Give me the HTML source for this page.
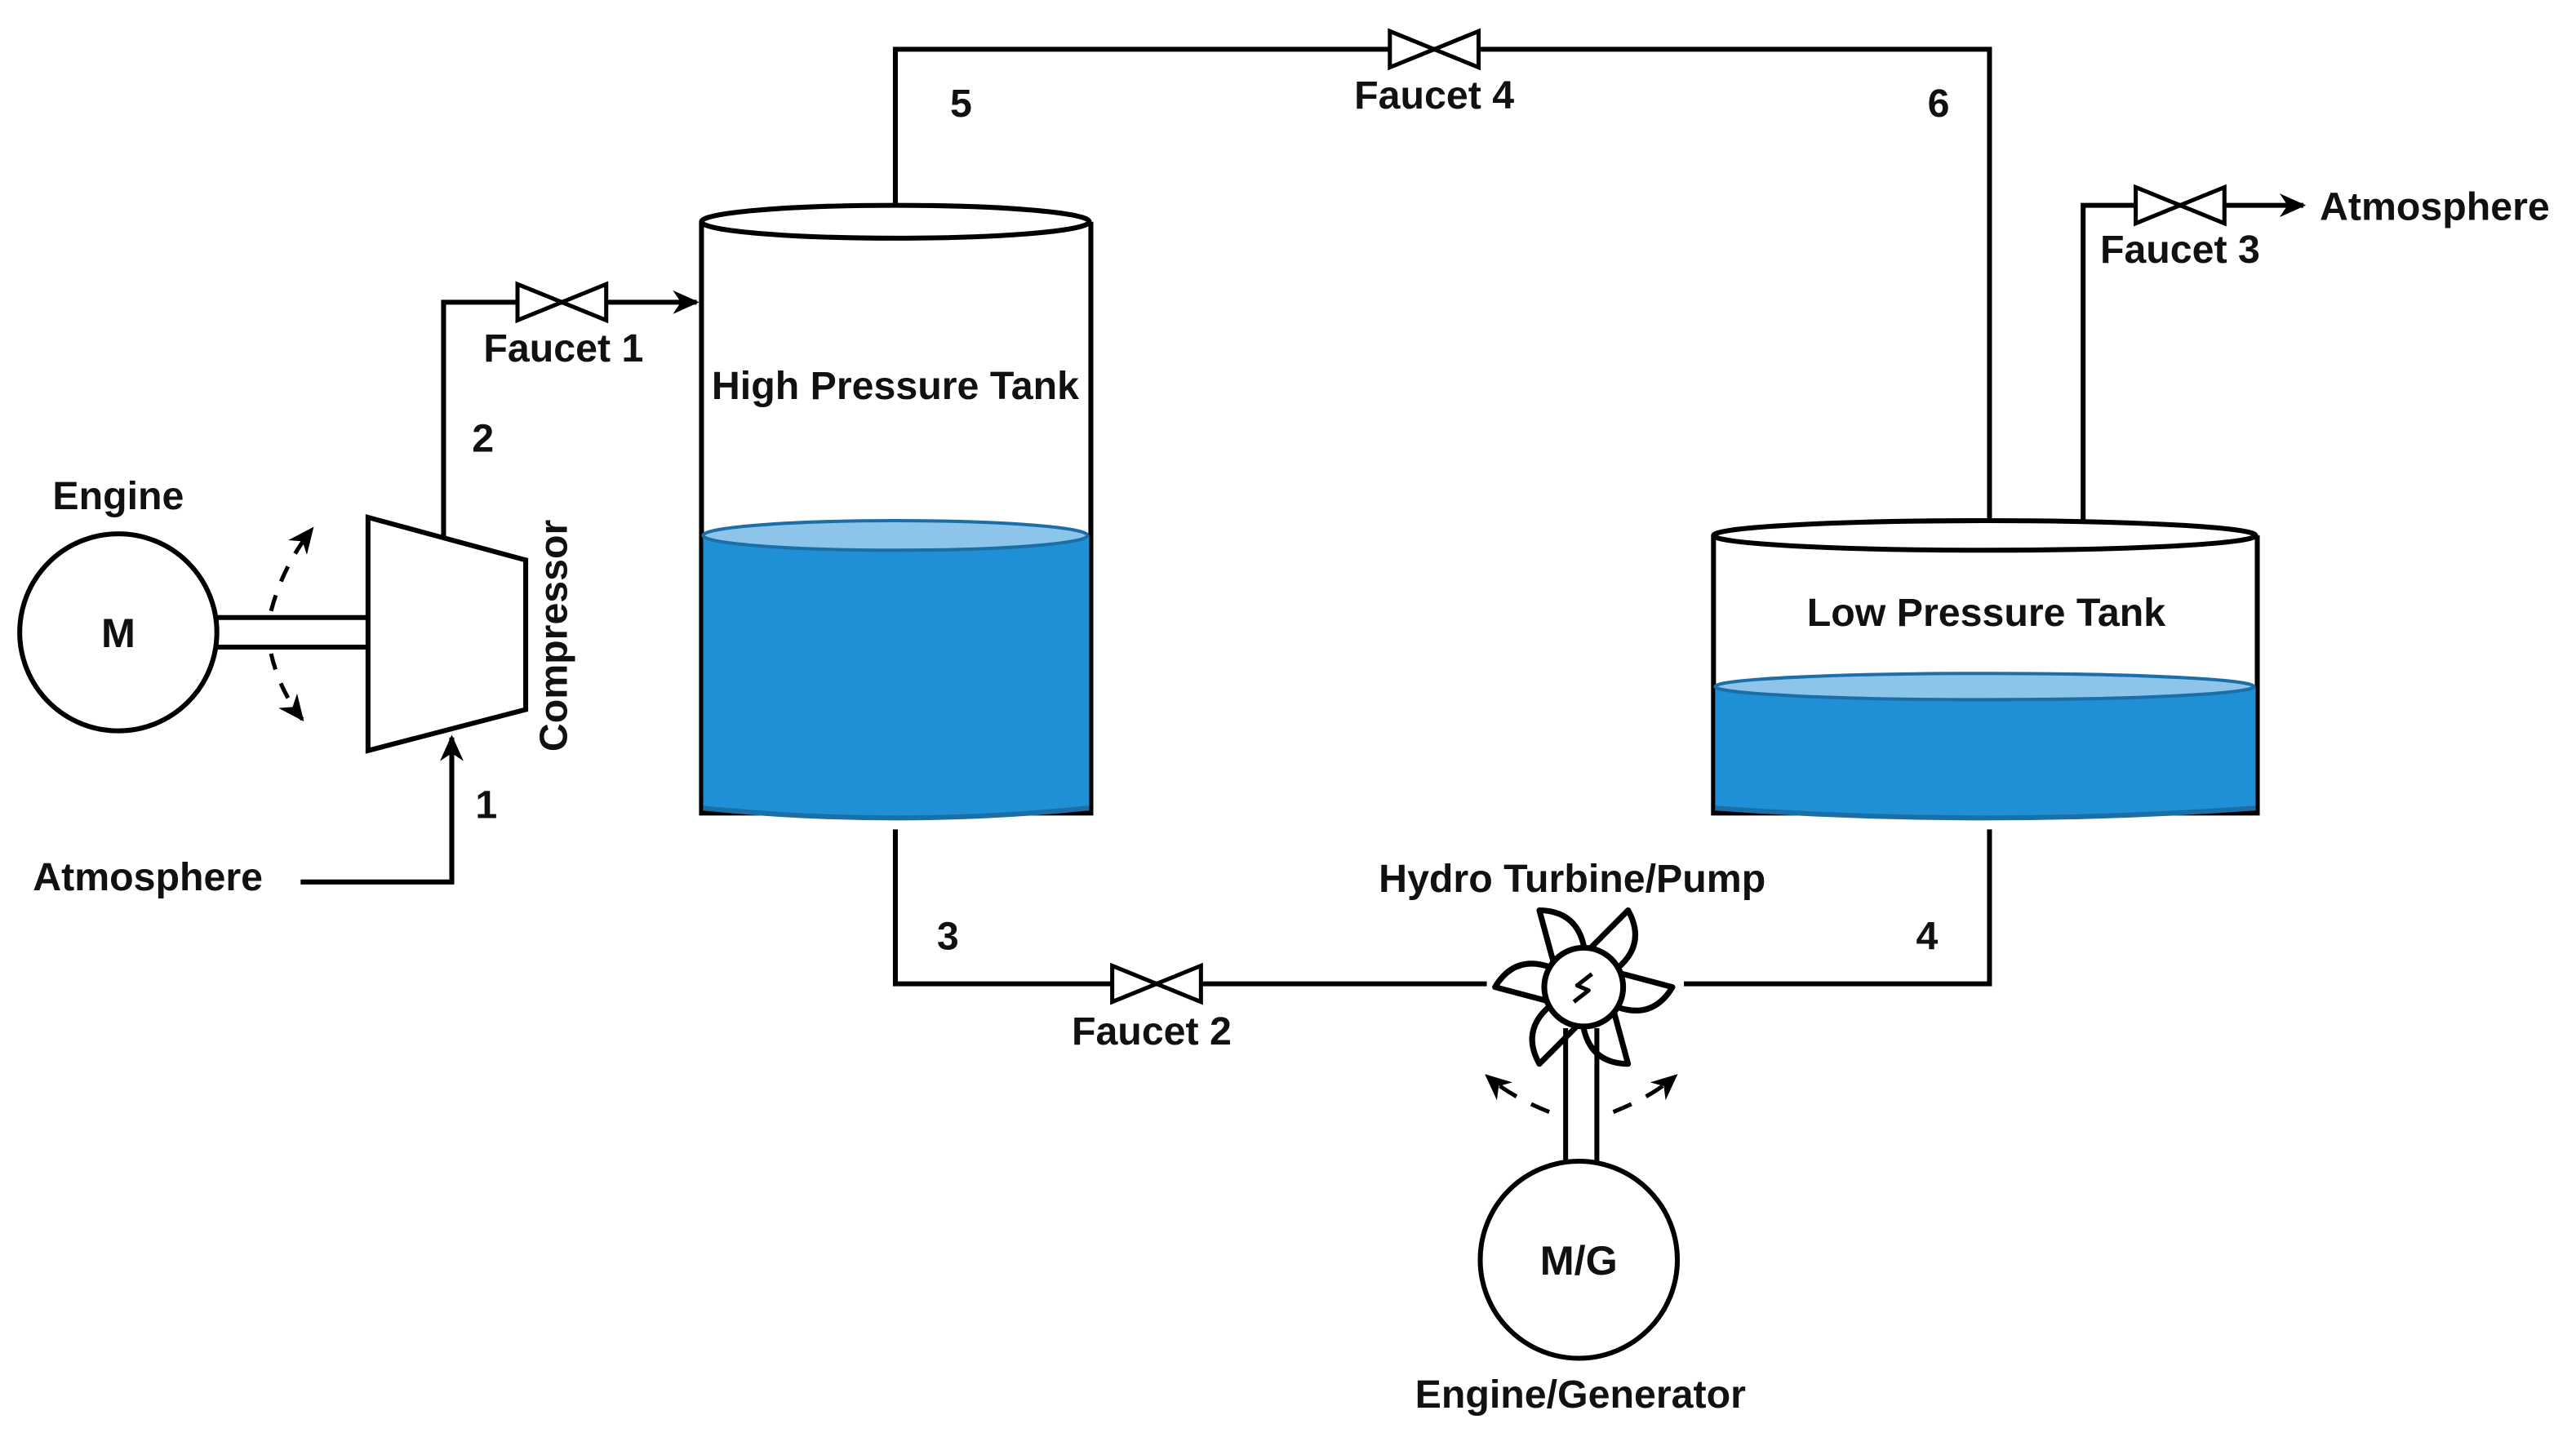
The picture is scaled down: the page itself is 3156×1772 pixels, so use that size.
<!DOCTYPE html>
<html><head><meta charset="utf-8">
<style>html,body{margin:0;padding:0;background:#fff}svg{display:block}</style>
</head><body>
<svg width="3156" height="1772" viewBox="0 0 1568 880.4" preserveAspectRatio="none" xmlns="http://www.w3.org/2000/svg">
<defs>
<marker id="ar2" viewBox="0 0 10 10" refX="9" refY="5" markerWidth="16" markerHeight="16" orient="auto" markerUnits="userSpaceOnUse">
<path d="M0,0.5 L10,5 L0,9.5 L3,5z" fill="#000"/>
</marker>
</defs>
<g font-family="Liberation Sans, sans-serif" font-weight="bold" font-size="24" fill="#111" text-anchor="middle">
<g fill="none" stroke="#000" stroke-width="3">
<circle cx="72" cy="385" r="60"/>
<line x1="132" y1="376" x2="224" y2="376"/>
<line x1="132" y1="394" x2="224" y2="394"/>
<path d="M224,315 L320,341 L320,432 L224,457 Z" fill="#fff"/>
<path d="M165,372 Q172,345 190,322" stroke-dasharray="10,9" marker-end="url(#ar2)" stroke-width="2.5"/>
<path d="M165,398 Q170,420 184,438" stroke-dasharray="10,9" marker-end="url(#ar2)" stroke-width="2.5"/>
<path d="M270,327 V184 H424" marker-end="url(#ar2)"/>
<path d="M183,537 H275 V449" marker-end="url(#ar2)"/>
<path d="M545,127 V30 H1211 V318"/>
<path d="M1268,318 V125 H1402" marker-end="url(#ar2)"/>
<path d="M545,505 V599 H905"/>
<path d="M1025,599 H1211 V505"/>
</g>
<g fill="#fff" stroke="#000" stroke-width="2.5">
<path d="M315,173 L369,195 L369,173 L315,195 Z"/>
<path d="M846,19 L900,41 L900,19 L846,41 Z"/>
<path d="M1300,114 L1354,136 L1354,114 L1300,136 Z"/>
<path d="M677,588 L731,610 L731,588 L677,610 Z"/>
</g>
<path d="M427,135 V495 H664 V135" fill="#fff" stroke="#000" stroke-width="3"/>
<path d="M428,326 V492 Q545,504 663,492 V326 Z" fill="#1f8fd6"/>
<ellipse cx="545" cy="326" rx="117" ry="9" fill="#8cc4ea" stroke="#1b6ea6" stroke-width="2"/>
<path d="M428,492 Q545,504 663,492" fill="none" stroke="#1b6ea6" stroke-width="3"/>
<ellipse cx="545" cy="135" rx="118" ry="10" fill="#fff" stroke="#000" stroke-width="3"/>
<path d="M1043,326 V495 H1374 V326" fill="#fff" stroke="#000" stroke-width="3"/>
<path d="M1044,418 V492 Q1208,504 1373,492 V418 Z" fill="#1f8fd6"/>
<ellipse cx="1208" cy="418" rx="164" ry="8" fill="#8cc4ea" stroke="#1b6ea6" stroke-width="2"/>
<path d="M1044,492 Q1208,504 1373,492" fill="none" stroke="#1b6ea6" stroke-width="3"/>
<ellipse cx="1208" cy="326" rx="165" ry="9" fill="#fff" stroke="#000" stroke-width="3"/>
<g stroke="#000" stroke-width="3.5" fill="#fff" stroke-linejoin="round">
<g transform="translate(964,601)">
<path transform="rotate(-120)" d="M20,-9 L54,0 Q42,20 20,12 Z"/>
<path transform="rotate(-60)" d="M20,-9 L54,0 Q42,20 20,12 Z"/>
<path transform="rotate(0)" d="M20,-9 L54,0 Q42,20 20,12 Z"/>
<path transform="rotate(60)" d="M20,-9 L54,0 Q42,20 20,12 Z"/>
<path transform="rotate(120)" d="M20,-9 L54,0 Q42,20 20,12 Z"/>
<path transform="rotate(180)" d="M20,-9 L54,0 Q42,20 20,12 Z"/>
<circle r="24"/>
<path d="M5,-8 L-4,-1 L3,2 L-6,9" fill="none" stroke-width="2.5"/>
</g>
</g>
<g stroke="#000" stroke-width="3" fill="none">
<line x1="953" y1="626" x2="953" y2="710"/>
<line x1="972" y1="626" x2="972" y2="710"/>
<path d="M943,677 Q920,668 905,655" stroke-dasharray="12,10" marker-end="url(#ar2)" stroke-width="2.5"/>
<path d="M982,677 Q1005,668 1020,655" stroke-dasharray="12,10" marker-end="url(#ar2)" stroke-width="2.5"/>
<circle cx="961" cy="767" r="60" fill="#fff"/>
</g>
<text x="72" y="310">Engine</text>
<text x="72" y="394" font-size="25">M</text>
<text x="90" y="542">Atmosphere</text>
<text x="296" y="498">1</text>
<text x="294" y="275">2</text>
<text x="343" y="220">Faucet 1</text>
<text transform="translate(345,387) rotate(-90)">Compressor</text>
<text x="545" y="243">High Pressure Tank</text>
<text x="585" y="71">5</text>
<text x="873" y="66">Faucet 4</text>
<text x="1180" y="71">6</text>
<text x="1327" y="160">Faucet 3</text>
<text x="1482" y="134">Atmosphere</text>
<text x="1209" y="381">Low Pressure Tank</text>
<text x="577" y="578">3</text>
<text x="1173" y="578">4</text>
<text x="701" y="636">Faucet 2</text>
<text x="957" y="543">Hydro Turbine/Pump</text>
<text x="961" y="776" font-size="25">M/G</text>
<text x="962" y="857">Engine/Generator</text>
</g>
</svg>
</body></html>
